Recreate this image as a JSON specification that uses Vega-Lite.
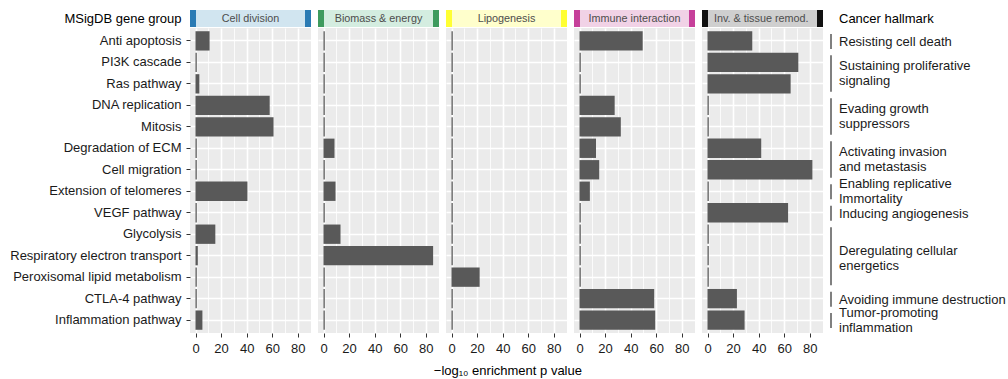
{
  "$schema": "https://vega.github.io/schema/vega-lite/v6.json",
  "padding": {"left": 9, "top": 10, "right": 0, "bottom": 0},
  "background": "white",
  "title": {"text": "−log₁₀ enrichment p value", "orient": "bottom", "anchor": "middle", "fontSize": 13, "fontWeight": "normal", "color": "#000000", "offset": 10},
  "datasets": {
    "groups": [
      {"group": "Cell division", "caption": "MSigDB gene group"},
      {"group": "Biomass & energy", "caption": "MSigDB gene group"},
      {"group": "Lipogenesis", "caption": "MSigDB gene group"},
      {"group": "Immune interaction", "caption": "MSigDB gene group"},
      {"group": "Inv. & tissue remod.", "caption": "MSigDB gene group"}
    ],
    "hallmarks": [
      {"lines": ["Resisting cell death"], "first": "Anti apoptosis", "last": "Anti apoptosis", "rows": 1},
      {"lines": ["Sustaining proliferative", "signaling"], "first": "PI3K cascade", "last": "Ras pathway", "rows": 2},
      {"lines": ["Evading growth", "suppressors"], "first": "DNA replication", "last": "Mitosis", "rows": 2},
      {"lines": ["Activating invasion", "and metastasis"], "first": "Degradation of ECM", "last": "Cell migration", "rows": 2},
      {"lines": ["Enabling replicative", "Immortality"], "first": "Extension of telomeres", "last": "Extension of telomeres", "rows": 1},
      {"lines": ["Inducing angiogenesis"], "first": "VEGF pathway", "last": "VEGF pathway", "rows": 1},
      {"lines": ["Deregulating cellular", "energetics"], "first": "Glycolysis", "last": "Peroxisomal lipid metabolism", "rows": 3},
      {"lines": ["Avoiding immune destruction"], "first": "CTLA-4 pathway", "last": "CTLA-4 pathway", "rows": 1},
      {"lines": ["Tumor-promoting", "inflammation"], "first": "Inflammation pathway", "last": "Inflammation pathway", "rows": 1}
    ],
    "enrich": [
      {"group": "Cell division", "pathway": "Anti apoptosis", "value": 11},
      {"group": "Cell division", "pathway": "PI3K cascade", "value": 1},
      {"group": "Cell division", "pathway": "Ras pathway", "value": 3},
      {"group": "Cell division", "pathway": "DNA replication", "value": 58},
      {"group": "Cell division", "pathway": "Mitosis", "value": 61},
      {"group": "Cell division", "pathway": "Degradation of ECM", "value": 1},
      {"group": "Cell division", "pathway": "Cell migration", "value": 1},
      {"group": "Cell division", "pathway": "Extension of telomeres", "value": 40.6},
      {"group": "Cell division", "pathway": "VEGF pathway", "value": 1},
      {"group": "Cell division", "pathway": "Glycolysis", "value": 15.5},
      {"group": "Cell division", "pathway": "Respiratory electron transport", "value": 1.8},
      {"group": "Cell division", "pathway": "Peroxisomal lipid metabolism", "value": 1},
      {"group": "Cell division", "pathway": "CTLA-4 pathway", "value": 1},
      {"group": "Cell division", "pathway": "Inflammation pathway", "value": 5.4},
      {"group": "Biomass & energy", "pathway": "Anti apoptosis", "value": 1},
      {"group": "Biomass & energy", "pathway": "PI3K cascade", "value": 1},
      {"group": "Biomass & energy", "pathway": "Ras pathway", "value": 1},
      {"group": "Biomass & energy", "pathway": "DNA replication", "value": 1},
      {"group": "Biomass & energy", "pathway": "Mitosis", "value": 1},
      {"group": "Biomass & energy", "pathway": "Degradation of ECM", "value": 8.6},
      {"group": "Biomass & energy", "pathway": "Cell migration", "value": 1},
      {"group": "Biomass & energy", "pathway": "Extension of telomeres", "value": 9.4},
      {"group": "Biomass & energy", "pathway": "VEGF pathway", "value": 1},
      {"group": "Biomass & energy", "pathway": "Glycolysis", "value": 13.3},
      {"group": "Biomass & energy", "pathway": "Respiratory electron transport", "value": 85.7},
      {"group": "Biomass & energy", "pathway": "Peroxisomal lipid metabolism", "value": 1},
      {"group": "Biomass & energy", "pathway": "CTLA-4 pathway", "value": 1},
      {"group": "Biomass & energy", "pathway": "Inflammation pathway", "value": 1},
      {"group": "Lipogenesis", "pathway": "Anti apoptosis", "value": 1},
      {"group": "Lipogenesis", "pathway": "PI3K cascade", "value": 1},
      {"group": "Lipogenesis", "pathway": "Ras pathway", "value": 1},
      {"group": "Lipogenesis", "pathway": "DNA replication", "value": 1},
      {"group": "Lipogenesis", "pathway": "Mitosis", "value": 1},
      {"group": "Lipogenesis", "pathway": "Degradation of ECM", "value": 1},
      {"group": "Lipogenesis", "pathway": "Cell migration", "value": 1},
      {"group": "Lipogenesis", "pathway": "Extension of telomeres", "value": 1},
      {"group": "Lipogenesis", "pathway": "VEGF pathway", "value": 1},
      {"group": "Lipogenesis", "pathway": "Glycolysis", "value": 1},
      {"group": "Lipogenesis", "pathway": "Respiratory electron transport", "value": 1},
      {"group": "Lipogenesis", "pathway": "Peroxisomal lipid metabolism", "value": 22},
      {"group": "Lipogenesis", "pathway": "CTLA-4 pathway", "value": 1},
      {"group": "Lipogenesis", "pathway": "Inflammation pathway", "value": 1},
      {"group": "Immune interaction", "pathway": "Anti apoptosis", "value": 49.4},
      {"group": "Immune interaction", "pathway": "PI3K cascade", "value": 1},
      {"group": "Immune interaction", "pathway": "Ras pathway", "value": 1},
      {"group": "Immune interaction", "pathway": "DNA replication", "value": 27.5},
      {"group": "Immune interaction", "pathway": "Mitosis", "value": 32.3},
      {"group": "Immune interaction", "pathway": "Degradation of ECM", "value": 12.9},
      {"group": "Immune interaction", "pathway": "Cell migration", "value": 15.4},
      {"group": "Immune interaction", "pathway": "Extension of telomeres", "value": 8.1},
      {"group": "Immune interaction", "pathway": "VEGF pathway", "value": 1},
      {"group": "Immune interaction", "pathway": "Glycolysis", "value": 1},
      {"group": "Immune interaction", "pathway": "Respiratory electron transport", "value": 1},
      {"group": "Immune interaction", "pathway": "Peroxisomal lipid metabolism", "value": 1},
      {"group": "Immune interaction", "pathway": "CTLA-4 pathway", "value": 58.4},
      {"group": "Immune interaction", "pathway": "Inflammation pathway", "value": 59.2},
      {"group": "Inv. & tissue remod.", "pathway": "Anti apoptosis", "value": 35},
      {"group": "Inv. & tissue remod.", "pathway": "PI3K cascade", "value": 71},
      {"group": "Inv. & tissue remod.", "pathway": "Ras pathway", "value": 65},
      {"group": "Inv. & tissue remod.", "pathway": "DNA replication", "value": 1},
      {"group": "Inv. & tissue remod.", "pathway": "Mitosis", "value": 1},
      {"group": "Inv. & tissue remod.", "pathway": "Degradation of ECM", "value": 42},
      {"group": "Inv. & tissue remod.", "pathway": "Cell migration", "value": 82},
      {"group": "Inv. & tissue remod.", "pathway": "Extension of telomeres", "value": 1},
      {"group": "Inv. & tissue remod.", "pathway": "VEGF pathway", "value": 63},
      {"group": "Inv. & tissue remod.", "pathway": "Glycolysis", "value": 1},
      {"group": "Inv. & tissue remod.", "pathway": "Respiratory electron transport", "value": 1},
      {"group": "Inv. & tissue remod.", "pathway": "Peroxisomal lipid metabolism", "value": 1},
      {"group": "Inv. & tissue remod.", "pathway": "CTLA-4 pathway", "value": 23},
      {"group": "Inv. & tissue remod.", "pathway": "Inflammation pathway", "value": 29}
    ]
  },
  "columns": 6,
  "align": "each",
  "bounds": "full",
  "spacing": {"row": 1, "column": 7},
  "resolve": {"scale": {"x": "independent", "y": "independent"}},
  "concat": [
    {
      "width": 121, "height": 17,
      "data": {"name": "groups"},
      "transform": [{"filter": "datum.group === 'Cell division'"}],
      "encoding": {"y": {"field": "caption", "type": "nominal", "scale": {"paddingInner": 0, "paddingOuter": 0}, "axis": {"title": null, "ticks": false, "tickSize": 0, "domain": false, "labelPadding": 9, "labelFontSize": 13, "labelColor": "#000000", "labelLimit": 0}}},
      "layer": [
        {"mark": {"type": "rect", "color": "#D1E5F0"}, "encoding": {"x": {"datum": -4.3, "type": "quantitative", "scale": {"domain": [-4.3, 90.3], "nice": false, "zero": false}, "axis": null}, "x2": {"datum": 90.3}}},
        {"mark": {"type": "rect", "color": "#2B7BB4"}, "encoding": {"x": {"datum": -4.3, "type": "quantitative", "axis": null}, "x2": {"datum": 0.4}}},
        {"mark": {"type": "rect", "color": "#2B7BB4"}, "encoding": {"x": {"datum": 85.6, "type": "quantitative", "axis": null}, "x2": {"datum": 90.3}}},
        {"mark": {"type": "text", "fontSize": 10.8, "color": "#4D4D4D"}, "encoding": {"x": {"datum": 43, "type": "quantitative", "axis": null}, "text": {"field": "group"}}}
      ]
    },
    {
      "width": 121, "height": 17,
      "data": {"name": "groups"},
      "transform": [{"filter": "datum.group === 'Biomass & energy'"}],
      "encoding": {"y": {"field": "caption", "type": "nominal", "scale": {"paddingInner": 0, "paddingOuter": 0}, "axis": null}},
      "layer": [
        {"mark": {"type": "rect", "color": "#D4EDE0"}, "encoding": {"x": {"datum": -4.3, "type": "quantitative", "scale": {"domain": [-4.3, 90.3], "nice": false, "zero": false}, "axis": null}, "x2": {"datum": 90.3}}},
        {"mark": {"type": "rect", "color": "#3E9B5E"}, "encoding": {"x": {"datum": -4.3, "type": "quantitative", "axis": null}, "x2": {"datum": 0.4}}},
        {"mark": {"type": "rect", "color": "#3E9B5E"}, "encoding": {"x": {"datum": 85.6, "type": "quantitative", "axis": null}, "x2": {"datum": 90.3}}},
        {"mark": {"type": "text", "fontSize": 10.8, "color": "#4D4D4D"}, "encoding": {"x": {"datum": 43, "type": "quantitative", "axis": null}, "text": {"field": "group"}}}
      ]
    },
    {
      "width": 121, "height": 17,
      "data": {"name": "groups"},
      "transform": [{"filter": "datum.group === 'Lipogenesis'"}],
      "encoding": {"y": {"field": "caption", "type": "nominal", "scale": {"paddingInner": 0, "paddingOuter": 0}, "axis": null}},
      "layer": [
        {"mark": {"type": "rect", "color": "#FFFFCC"}, "encoding": {"x": {"datum": -4.3, "type": "quantitative", "scale": {"domain": [-4.3, 90.3], "nice": false, "zero": false}, "axis": null}, "x2": {"datum": 90.3}}},
        {"mark": {"type": "rect", "color": "#FFFF33"}, "encoding": {"x": {"datum": -4.3, "type": "quantitative", "axis": null}, "x2": {"datum": 0.4}}},
        {"mark": {"type": "rect", "color": "#FFFF33"}, "encoding": {"x": {"datum": 85.6, "type": "quantitative", "axis": null}, "x2": {"datum": 90.3}}},
        {"mark": {"type": "text", "fontSize": 10.8, "color": "#4D4D4D"}, "encoding": {"x": {"datum": 43, "type": "quantitative", "axis": null}, "text": {"field": "group"}}}
      ]
    },
    {
      "width": 121, "height": 17,
      "data": {"name": "groups"},
      "transform": [{"filter": "datum.group === 'Immune interaction'"}],
      "encoding": {"y": {"field": "caption", "type": "nominal", "scale": {"paddingInner": 0, "paddingOuter": 0}, "axis": null}},
      "layer": [
        {"mark": {"type": "rect", "color": "#F1D2E6"}, "encoding": {"x": {"datum": -4.3, "type": "quantitative", "scale": {"domain": [-4.3, 90.3], "nice": false, "zero": false}, "axis": null}, "x2": {"datum": 90.3}}},
        {"mark": {"type": "rect", "color": "#C6409A"}, "encoding": {"x": {"datum": -4.3, "type": "quantitative", "axis": null}, "x2": {"datum": 0.4}}},
        {"mark": {"type": "rect", "color": "#C6409A"}, "encoding": {"x": {"datum": 85.6, "type": "quantitative", "axis": null}, "x2": {"datum": 90.3}}},
        {"mark": {"type": "text", "fontSize": 10.8, "color": "#4D4D4D"}, "encoding": {"x": {"datum": 43, "type": "quantitative", "axis": null}, "text": {"field": "group"}}}
      ]
    },
    {
      "width": 121, "height": 17,
      "data": {"name": "groups"},
      "transform": [{"filter": "datum.group === 'Inv. & tissue remod.'"}],
      "encoding": {"y": {"field": "caption", "type": "nominal", "scale": {"paddingInner": 0, "paddingOuter": 0}, "axis": null}},
      "layer": [
        {"mark": {"type": "rect", "color": "#CFCFCF"}, "encoding": {"x": {"datum": -4.3, "type": "quantitative", "scale": {"domain": [-4.3, 90.3], "nice": false, "zero": false}, "axis": null}, "x2": {"datum": 90.3}}},
        {"mark": {"type": "rect", "color": "#111111"}, "encoding": {"x": {"datum": -4.3, "type": "quantitative", "axis": null}, "x2": {"datum": 0.4}}},
        {"mark": {"type": "rect", "color": "#111111"}, "encoding": {"x": {"datum": 85.6, "type": "quantitative", "axis": null}, "x2": {"datum": 90.3}}},
        {"mark": {"type": "text", "fontSize": 10.8, "color": "#4D4D4D"}, "encoding": {"x": {"datum": 42, "type": "quantitative", "axis": null}, "text": {"field": "group"}}}
      ]
    },
    {
      "width": 175, "height": 17,
      "data": {"values": [{"label": "Cancer hallmark"}]},
      "mark": {"type": "text", "align": "left", "dx": 8, "fontSize": 13, "color": "#000000"},
      "encoding": {
        "x": {"datum": 0, "type": "quantitative", "scale": {"domain": [0, 1]}, "axis": null},
        "y": {"field": "label", "type": "nominal", "scale": {"paddingInner": 0, "paddingOuter": 0}, "axis": null},
        "text": {"field": "label"}
      }
    },
    {
      "width": 121, "height": 305,
      "view": {"fill": "#EBEBEB", "stroke": null},
      "data": {"name": "enrich"},
      "transform": [{"filter": "datum.group === 'Cell division'"}],
      "mark": {"type": "bar", "color": "#595959"},
      "encoding": {
        "y": {"field": "pathway", "type": "nominal", "scale": {"domain": ["Anti apoptosis", "PI3K cascade", "Ras pathway", "DNA replication", "Mitosis", "Degradation of ECM", "Cell migration", "Extension of telomeres", "VEGF pathway", "Glycolysis", "Respiratory electron transport", "Peroxisomal lipid metabolism", "CTLA-4 pathway", "Inflammation pathway"], "paddingInner": 0.1, "paddingOuter": 0.15},
          "axis": {"title": null, "domain": false, "grid": true, "gridColor": "#FFFFFF", "gridWidth": 1.6, "bandPosition": 0.5, "tickSize": 4, "tickColor": "#333333", "labelPadding": 5, "labelFontSize": 13, "labelColor": "#1A1A1A", "labelLimit": 0}},
        "x": {"field": "value", "type": "quantitative", "scale": {"domain": [-4.3, 90.3], "nice": false, "zero": false},
          "axis": {"title": null, "domain": false, "values": [0, 10, 20, 30, 40, 50, 60, 70, 80], "labelExpr": "datum.value % 20 === 0 ? datum.label : ''", "labelOverlap": false, "labelFlush": false, "grid": true, "gridColor": "#FFFFFF", "gridWidth": {"condition": {"test": "datum.value % 20 !== 0", "value": 0.8}, "value": 1.6}, "tickOpacity": {"condition": {"test": "datum.value % 20 !== 0", "value": 0}, "value": 1}, "tickSize": 4, "tickColor": "#333333", "labelPadding": 5, "labelFontSize": 13, "labelColor": "#1A1A1A"}},
        "x2": {"datum": 0}
      }
    },
    {
      "width": 121, "height": 305,
      "view": {"fill": "#EBEBEB", "stroke": null},
      "data": {"name": "enrich"},
      "transform": [{"filter": "datum.group === 'Biomass & energy'"}],
      "mark": {"type": "bar", "color": "#595959"},
      "encoding": {
        "y": {"field": "pathway", "type": "nominal", "scale": {"domain": ["Anti apoptosis", "PI3K cascade", "Ras pathway", "DNA replication", "Mitosis", "Degradation of ECM", "Cell migration", "Extension of telomeres", "VEGF pathway", "Glycolysis", "Respiratory electron transport", "Peroxisomal lipid metabolism", "CTLA-4 pathway", "Inflammation pathway"], "paddingInner": 0.1, "paddingOuter": 0.15},
          "axis": {"title": null, "domain": false, "labels": false, "ticks": false, "grid": true, "gridColor": "#FFFFFF", "gridWidth": 1.6, "bandPosition": 0.5}},
        "x": {"field": "value", "type": "quantitative", "scale": {"domain": [-4.3, 90.3], "nice": false, "zero": false},
          "axis": {"title": null, "domain": false, "values": [0, 10, 20, 30, 40, 50, 60, 70, 80], "labelExpr": "datum.value % 20 === 0 ? datum.label : ''", "labelOverlap": false, "labelFlush": false, "grid": true, "gridColor": "#FFFFFF", "gridWidth": {"condition": {"test": "datum.value % 20 !== 0", "value": 0.8}, "value": 1.6}, "tickOpacity": {"condition": {"test": "datum.value % 20 !== 0", "value": 0}, "value": 1}, "tickSize": 4, "tickColor": "#333333", "labelPadding": 5, "labelFontSize": 13, "labelColor": "#1A1A1A"}},
        "x2": {"datum": 0}
      }
    },
    {
      "width": 121, "height": 305,
      "view": {"fill": "#EBEBEB", "stroke": null},
      "data": {"name": "enrich"},
      "transform": [{"filter": "datum.group === 'Lipogenesis'"}],
      "mark": {"type": "bar", "color": "#595959"},
      "encoding": {
        "y": {"field": "pathway", "type": "nominal", "scale": {"domain": ["Anti apoptosis", "PI3K cascade", "Ras pathway", "DNA replication", "Mitosis", "Degradation of ECM", "Cell migration", "Extension of telomeres", "VEGF pathway", "Glycolysis", "Respiratory electron transport", "Peroxisomal lipid metabolism", "CTLA-4 pathway", "Inflammation pathway"], "paddingInner": 0.1, "paddingOuter": 0.15},
          "axis": {"title": null, "domain": false, "labels": false, "ticks": false, "grid": true, "gridColor": "#FFFFFF", "gridWidth": 1.6, "bandPosition": 0.5}},
        "x": {"field": "value", "type": "quantitative", "scale": {"domain": [-4.3, 90.3], "nice": false, "zero": false},
          "axis": {"title": null, "domain": false, "values": [0, 10, 20, 30, 40, 50, 60, 70, 80], "labelExpr": "datum.value % 20 === 0 ? datum.label : ''", "labelOverlap": false, "labelFlush": false, "grid": true, "gridColor": "#FFFFFF", "gridWidth": {"condition": {"test": "datum.value % 20 !== 0", "value": 0.8}, "value": 1.6}, "tickOpacity": {"condition": {"test": "datum.value % 20 !== 0", "value": 0}, "value": 1}, "tickSize": 4, "tickColor": "#333333", "labelPadding": 5, "labelFontSize": 13, "labelColor": "#1A1A1A"}},
        "x2": {"datum": 0}
      }
    },
    {
      "width": 121, "height": 305,
      "view": {"fill": "#EBEBEB", "stroke": null},
      "data": {"name": "enrich"},
      "transform": [{"filter": "datum.group === 'Immune interaction'"}],
      "mark": {"type": "bar", "color": "#595959"},
      "encoding": {
        "y": {"field": "pathway", "type": "nominal", "scale": {"domain": ["Anti apoptosis", "PI3K cascade", "Ras pathway", "DNA replication", "Mitosis", "Degradation of ECM", "Cell migration", "Extension of telomeres", "VEGF pathway", "Glycolysis", "Respiratory electron transport", "Peroxisomal lipid metabolism", "CTLA-4 pathway", "Inflammation pathway"], "paddingInner": 0.1, "paddingOuter": 0.15},
          "axis": {"title": null, "domain": false, "labels": false, "ticks": false, "grid": true, "gridColor": "#FFFFFF", "gridWidth": 1.6, "bandPosition": 0.5}},
        "x": {"field": "value", "type": "quantitative", "scale": {"domain": [-4.3, 90.3], "nice": false, "zero": false},
          "axis": {"title": null, "domain": false, "values": [0, 10, 20, 30, 40, 50, 60, 70, 80], "labelExpr": "datum.value % 20 === 0 ? datum.label : ''", "labelOverlap": false, "labelFlush": false, "grid": true, "gridColor": "#FFFFFF", "gridWidth": {"condition": {"test": "datum.value % 20 !== 0", "value": 0.8}, "value": 1.6}, "tickOpacity": {"condition": {"test": "datum.value % 20 !== 0", "value": 0}, "value": 1}, "tickSize": 4, "tickColor": "#333333", "labelPadding": 5, "labelFontSize": 13, "labelColor": "#1A1A1A"}},
        "x2": {"datum": 0}
      }
    },
    {
      "width": 121, "height": 305,
      "view": {"fill": "#EBEBEB", "stroke": null},
      "data": {"name": "enrich"},
      "transform": [{"filter": "datum.group === 'Inv. & tissue remod.'"}],
      "mark": {"type": "bar", "color": "#595959"},
      "encoding": {
        "y": {"field": "pathway", "type": "nominal", "scale": {"domain": ["Anti apoptosis", "PI3K cascade", "Ras pathway", "DNA replication", "Mitosis", "Degradation of ECM", "Cell migration", "Extension of telomeres", "VEGF pathway", "Glycolysis", "Respiratory electron transport", "Peroxisomal lipid metabolism", "CTLA-4 pathway", "Inflammation pathway"], "paddingInner": 0.1, "paddingOuter": 0.15},
          "axis": {"title": null, "domain": false, "labels": false, "ticks": false, "grid": true, "gridColor": "#FFFFFF", "gridWidth": 1.6, "bandPosition": 0.5}},
        "x": {"field": "value", "type": "quantitative", "scale": {"domain": [-4.3, 90.3], "nice": false, "zero": false},
          "axis": {"title": null, "domain": false, "values": [0, 10, 20, 30, 40, 50, 60, 70, 80], "labelExpr": "datum.value % 20 === 0 ? datum.label : ''", "labelOverlap": false, "labelFlush": false, "grid": true, "gridColor": "#FFFFFF", "gridWidth": {"condition": {"test": "datum.value % 20 !== 0", "value": 0.8}, "value": 1.6}, "tickOpacity": {"condition": {"test": "datum.value % 20 !== 0", "value": 0}, "value": 1}, "tickSize": 4, "tickColor": "#333333", "labelPadding": 5, "labelFontSize": 13, "labelColor": "#1A1A1A"}},
        "x2": {"datum": 0}
      }
    },
    {
      "width": 175, "height": 305,
      "data": {"name": "hallmarks"},
      "encoding": {
        "x": {"datum": 0, "type": "quantitative", "scale": {"domain": [0, 1]}, "axis": null},
        "y": {"field": "first", "type": "nominal", "scale": {"domain": ["Anti apoptosis", "PI3K cascade", "Ras pathway", "DNA replication", "Mitosis", "Degradation of ECM", "Cell migration", "Extension of telomeres", "VEGF pathway", "Glycolysis", "Respiratory electron transport", "Peroxisomal lipid metabolism", "CTLA-4 pathway", "Inflammation pathway"], "paddingInner": 0.1, "paddingOuter": 0.15}, "axis": null}
      },
      "layer": [
        {"mark": {"type": "rule", "color": "#808080", "strokeWidth": 2, "yOffset": -7, "y2Offset": 8}, "encoding": {"y2": {"field": "last"}}},
        {"transform": [{"filter": "datum.rows === 1 && length(datum.lines) === 1"}], "mark": {"type": "text", "align": "left", "baseline": "middle", "dx": 8, "fontSize": 13, "lineHeight": 15, "color": "#1A1A1A", "yOffset": 1}, "encoding": {"text": {"field": "lines"}}},
        {"transform": [{"filter": "datum.rows === 1 && length(datum.lines) === 2"}], "mark": {"type": "text", "align": "left", "baseline": "middle", "dx": 8, "fontSize": 13, "lineHeight": 15, "color": "#1A1A1A", "yOffset": -7}, "encoding": {"text": {"field": "lines"}}},
        {"transform": [{"filter": "datum.rows === 2"}], "mark": {"type": "text", "align": "left", "baseline": "middle", "dx": 8, "fontSize": 13, "lineHeight": 15, "color": "#1A1A1A", "yOffset": 3.5}, "encoding": {"text": {"field": "lines"}}},
        {"transform": [{"filter": "datum.rows === 3"}], "mark": {"type": "text", "align": "left", "baseline": "middle", "dx": 8, "fontSize": 13, "lineHeight": 15, "color": "#1A1A1A", "yOffset": 17}, "encoding": {"text": {"field": "lines"}}}
      ]
    }
  ],
  "config": {
    "font": "Liberation Sans",
    "view": {"stroke": null}
  }
}
